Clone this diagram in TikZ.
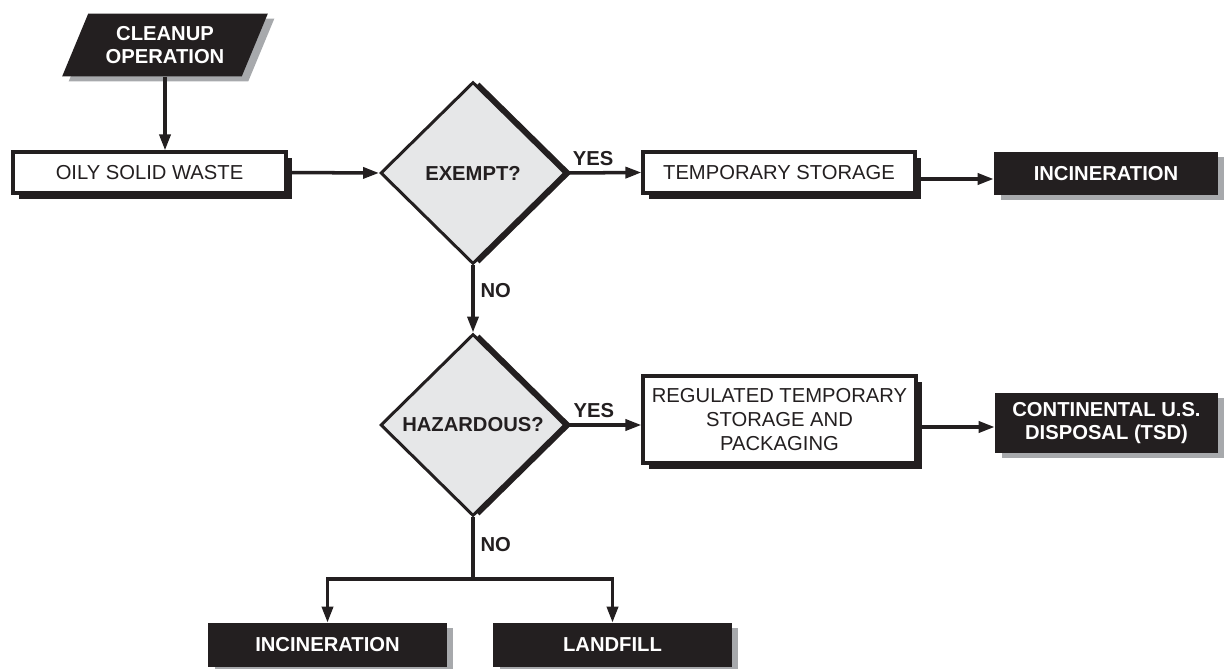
\documentclass[tikz,border=0pt]{standalone}
\usepackage{fontspec}
\setmainfont{Liberation Sans}
\usetikzlibrary{arrows.meta,shapes.geometric,shadows}
\definecolor{WasteInk}{RGB}{35,31,32}
\definecolor{WasteFill}{RGB}{230,231,232}
\definecolor{WasteShade}{RGB}{167,169,172}

\begin{document}
\begin{tikzpicture}[x=0.02cm,y=-0.02cm,font=\fontsize{11.5}{13.6}\selectfont,
    flow/.style={-{Triangle[length=0.32cm,width=0.22cm]},line width=2pt,WasteInk},
    whitebox/.style={draw=WasteInk,line width=1.8pt,fill=white,align=center,text=WasteInk,
      drop shadow={shadow xshift=0.12cm,shadow yshift=-0.12cm,fill=WasteInk,opacity=1}},
    blackbox/.style={fill=WasteInk,text=white,align=center,font=\fontsize{11.5}{13.6}\selectfont\bfseries,
      drop shadow={shadow xshift=0.13cm,shadow yshift=-0.1cm,fill=WasteShade,opacity=1}},
    decision/.style={diamond,draw=WasteInk,line width=1.7pt,fill=WasteFill,inner sep=0pt,
      minimum width=3.7cm,minimum height=3.64cm,text=WasteInk,font=\fontsize{11.5}{13.6}\selectfont\bfseries,
      drop shadow={shadow xshift=0.13cm,shadow yshift=0cm,fill=WasteInk,opacity=1}},
    tag/.style={text=WasteInk,font=\fontsize{11.5}{13.6}\selectfont\bfseries}]
  \useasboundingbox (0,0) rectangle (1225,669);

  % start of the chain
  \node[blackbox,trapezium,trapezium left angle=66,trapezium right angle=114,trapezium stretches=true,
    minimum width=4.14cm,minimum height=1.26cm] (cleanup) at (165,45) {CLEANUP\\OPERATION};
  \node[whitebox,minimum width=5.46cm,minimum height=0.82cm] (oily) at (149.5,172.5) {OILY SOLID WASTE};

  % decisions
  \node[decision] (exempt) at (473,173) {EXEMPT?};
  \node[decision] (hazard) at (473,425) {HAZARDOUS?};

  % storage steps
  \node[whitebox,minimum width=5.44cm,minimum height=0.82cm] (tempst) at (779,172.5) {TEMPORARY STORAGE};
  \node[whitebox,minimum width=5.46cm,minimum height=1.74cm] (regul) at (779.5,419.5) {REGULATED TEMPORARY\\STORAGE AND\\PACKAGING};

  % final disposal
  \node[blackbox,minimum width=4.48cm,minimum height=0.86cm] (incin1) at (1106,173.5) {INCINERATION};
  \node[blackbox,minimum width=4.46cm,minimum height=1.2cm] (contus) at (1106.5,423) {CONTINENTAL U.S.\\DISPOSAL (TSD)};
  \node[blackbox,minimum width=4.78cm,minimum height=0.88cm] (incin2) at (327.5,645) {INCINERATION};
  \node[blackbox,minimum width=4.78cm,minimum height=0.88cm] (landfill) at (612.5,645) {LANDFILL};

  \draw[flow] (cleanup.south) -- (cleanup.south |- oily.north);
  \draw[flow] (oily.east) -- (exempt.west);
  \draw[flow] (exempt.east) -- node[tag,above,pos=0.35]{YES} (tempst.west);
  \draw[flow] ([yshift=-0.13cm]tempst.east) -- ([yshift=-0.13cm]tempst.east -| incin1.west);
  \draw[flow] (exempt.south) -- node[tag,right,pos=0.38]{NO} (hazard.north);
  \draw[flow] (hazard.east) -- node[tag,above,pos=0.36]{YES} (hazard.east -| regul.west);
  \draw[flow] ([yshift=-0.15cm]regul.east) -- ([yshift=-0.15cm]regul.east -| contus.west);

  % the NO branch splits in two
  \coordinate (split) at (473,579);
  \draw[flow,-] (hazard.south) -- node[tag,right,pos=0.44]{NO} (split);
  \draw[flow] (split) -| (incin2.north);
  \draw[flow] (split) -| (landfill.north);
\end{tikzpicture}
\end{document}
